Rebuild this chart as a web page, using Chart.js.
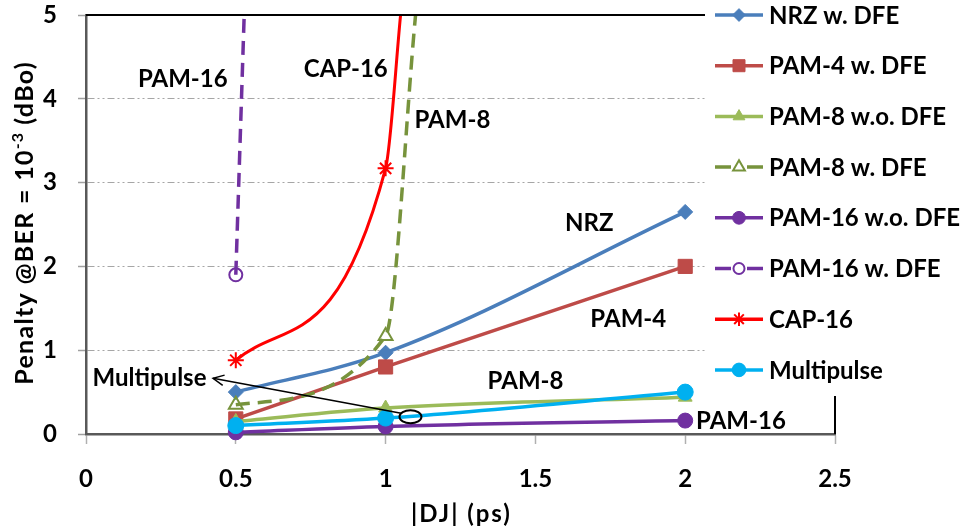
<!DOCTYPE html>
<html>
<head>
<meta charset="utf-8">
<script src="https://cdn.jsdelivr.net/npm/chart.js@4/dist/chart.umd.min.js"></script>
<style>
  html, body { margin: 0; padding: 0; background: #ffffff; }
  canvas { display: block; }
</style>
</head>
<body>
<canvas id="chart" width="972" height="527"></canvas>
<script>
// Axis ticks
const xTickValues = [0, 0.5, 1, 1.5, 2, 2.5];
const yTickValues = [0, 1, 2, 3, 4, 5];

// |DJ| (ps) sample positions shared by the full sweeps
const djPs = [0.5, 1, 2];

// Power penalty (dBo) at BER = 1e-3
const nrzDfe      = [0.50, 0.97, 2.65];
const pam4Dfe     = [0.18, 0.80, 2.00];
const pam8NoDfe   = [0.15, 0.31, 0.44];
const pam16NoDfe  = [0.02, 0.09, 0.16];
const multipulse  = [0.10, 0.19, 0.50];

// Curves that run off the top of the penalty range
const pam8DfeX    = [0.5, 1, 1.1];
const pam8Dfe     = [0.35, 1.17, 5];
const pam16DfeX   = [0.5, 0.528];
const pam16Dfe    = [1.9, 5];
const cap16X      = [0.5, 1, 1.05];
const cap16       = [0.88, 3.17, 5];

const seriesNames = [
  'NRZ w. DFE', 'PAM-4 w. DFE', 'PAM-8 w.o. DFE', 'PAM-8 w. DFE',
  'PAM-16 w.o. DFE', 'PAM-16 w. DFE', 'CAP-16', 'Multipulse'
];

// Axis titles; the y title carries a superscript exponent
const xTitle = '|DJ| (ps)';
const yTitleParts = ['Penalty @BER = 10', '-3', ' (dBo)'];

// In-plot curve labels (data coordinates)
const curveLabelText = ['PAM-16', 'CAP-16', 'PAM-8', 'NRZ', 'PAM-4', 'PAM-8', 'PAM-16', 'Multipulse'];
const curveLabelX    = [0.323, 0.867, 1.223, 1.68, 1.81, 1.467, 2.186, 0.212];
const curveLabelY    = [4.24, 4.36, 3.76, 2.52, 1.38, 0.644, 0.167, 0.674];

// Callout from the "Multipulse" label to its curve
const calloutFrom = [0.424, 0.665];
const calloutTo   = [1.052, 0.247];
const calloutRing = [1.083, 0.206];

const FONT = 'Lato';
const FONT_SIZE = 24;

const pts = (xs, ys) => xs.map((x, i) => ({ x: x, y: ys[i] }));

function series(name, xs, ys, color, extra) {
  return Object.assign({
    label: name,
    data: pts(xs, ys),
    showLine: true,
    borderColor: color,
    backgroundColor: color,
    pointBorderColor: color,
    pointBackgroundColor: color,
    borderWidth: 3.5,
    pointBorderWidth: 1,
    cubicInterpolationMode: 'monotone',
    clip: { left: 20, right: 20, top: 0, bottom: 20 }
  }, extra);
}

const datasets = [
  series(seriesNames[0], djPs, nrzDfe, '#4A7EBB', { pointStyle: 'rectRot', pointRadius: 7.5 }),
  series(seriesNames[1], djPs, pam4Dfe, '#BE4B48', { pointStyle: 'rect', pointRadius: 10 }),
  series(seriesNames[2], djPs, pam8NoDfe, '#9BBB59', { pointStyle: 'triangle', pointRadius: 8 }),
  series(seriesNames[3], pam8DfeX, pam8Dfe, '#77933C', {
    pointStyle: 'triangle', pointRadius: [8, 8, 0], borderDash: [14, 8],
    pointBackgroundColor: 'rgba(0,0,0,0)', pointBorderWidth: 2
  }),
  series(seriesNames[4], djPs, pam16NoDfe, '#7030A0', { pointStyle: 'circle', pointRadius: 7.5 }),
  series(seriesNames[5], pam16DfeX, pam16Dfe, '#7030A0', {
    pointStyle: 'circle', pointRadius: [6.5, 0], borderDash: [14, 8],
    pointBackgroundColor: 'rgba(0,0,0,0)', pointBorderWidth: 2
  }),
  series(seriesNames[6], cap16X, cap16, '#FF0000', {
    pointStyle: 'star', pointRadius: [8, 8, 0], borderWidth: 3, pointBorderWidth: 2
  }),
  series(seriesNames[7], djPs, multipulse, '#00B0F0', { pointStyle: 'circle', pointRadius: 8 })
];
// later series are painted on top
datasets.forEach((d, i) => { d.order = datasets.length - i; });

// width of a run of text drawn with extra letter spacing
function spacedWidth(ctx, text, spacing) {
  ctx.letterSpacing = '0px';
  return ctx.measureText(text).width + spacing * text.length;
}
function drawSpaced(ctx, text, x, y, spacing) {
  ctx.letterSpacing = spacing + 'px';
  ctx.fillText(text, x, y);
  ctx.letterSpacing = '0px';
}

const framePlugin = {
  id: 'frameAndNotes',
  afterDatasetsDraw(chart) {
    const ctx = chart.ctx, a = chart.chartArea;
    const xs = chart.scales.x, ys = chart.scales.y;
    ctx.save();
    // top and right edges of the plot frame
    ctx.strokeStyle = '#000000';
    ctx.lineWidth = 2;
    ctx.beginPath();
    ctx.moveTo(a.left, a.top);
    ctx.lineTo(a.right, a.top);
    ctx.lineTo(a.right, a.bottom);
    ctx.stroke();

    // curve labels
    ctx.fillStyle = '#000000';
    ctx.font = 'bold ' + FONT_SIZE + 'px ' + FONT;
    ctx.textAlign = 'center';
    ctx.textBaseline = 'alphabetic';
    curveLabelText.forEach((t, i) => {
      const px = xs.getPixelForValue(curveLabelX[i]);
      const py = ys.getPixelForValue(curveLabelY[i]);
      ctx.fillText(t, px, py + FONT_SIZE * 0.36);
    });

    // callout arrow and ring
    const x0 = xs.getPixelForValue(calloutFrom[0]), y0 = ys.getPixelForValue(calloutFrom[1]);
    const x1 = xs.getPixelForValue(calloutTo[0]), y1 = ys.getPixelForValue(calloutTo[1]);
    ctx.strokeStyle = '#000000';
    ctx.lineWidth = 1.5;
    ctx.beginPath();
    ctx.moveTo(x1, y1);
    ctx.lineTo(x0, y0);
    ctx.stroke();
    const ang = Math.atan2(y1 - y0, x1 - x0);
    ctx.beginPath();
    ctx.moveTo(x0 + 12 * Math.cos(ang - 0.45), y0 + 12 * Math.sin(ang - 0.45));
    ctx.lineTo(x0, y0);
    ctx.lineTo(x0 + 12 * Math.cos(ang + 0.45), y0 + 12 * Math.sin(ang + 0.45));
    ctx.stroke();
    ctx.lineWidth = 2;
    ctx.beginPath();
    ctx.ellipse(xs.getPixelForValue(calloutRing[0]), ys.getPixelForValue(calloutRing[1]), 11, 6.5, 0, 0, Math.PI * 2);
    ctx.stroke();
    ctx.restore();
  },
  afterDraw(chart) {
    const ctx = chart.ctx, a = chart.chartArea;
    ctx.save();

    // x axis title, centred under the plot
    ctx.fillStyle = '#000000';
    ctx.textBaseline = 'alphabetic';
    ctx.textAlign = 'left';
    ctx.font = 'bold 24px ' + FONT;
    const xw = spacedWidth(ctx, xTitle, 2);
    drawSpaced(ctx, xTitle, (a.left + a.right) / 2 - xw / 2 + 1, 521.5, 2);

    // y axis title, rotated, with superscript exponent
    ctx.save();
    ctx.translate(33, 223);
    ctx.rotate(-Math.PI / 2);
    const big = 'bold 25px ' + FONT, small = 'bold 16px ' + FONT;
    ctx.font = big;
    const w0 = spacedWidth(ctx, yTitleParts[0], 1.3);
    const w2 = spacedWidth(ctx, yTitleParts[2], 1.3);
    ctx.font = small;
    const w1 = spacedWidth(ctx, yTitleParts[1], 1);
    let cx = -(w0 + w1 + w2) / 2;
    ctx.font = big;
    drawSpaced(ctx, yTitleParts[0], cx, 0, 1.3); cx += w0;
    ctx.font = small;
    drawSpaced(ctx, yTitleParts[1], cx, -10, 1); cx += w1;
    ctx.font = big;
    drawSpaced(ctx, yTitleParts[2], cx, 0, 1.3);
    ctx.restore();

    // legend panel sits over the upper right of the plot
    ctx.fillStyle = '#ffffff';
    ctx.fillRect(705, 0, 267, 396);
    chart.data.datasets.forEach((ds, i) => {
      const cy = 15 + i * 50.7;
      const x0 = 715, x1 = 763, cx = 739;
      ctx.strokeStyle = ds.borderColor;
      ctx.lineWidth = 3.5;
      ctx.setLineDash([]);
      ctx.beginPath();
      if (ds.borderDash) {
        ctx.moveTo(x0, cy); ctx.lineTo(x0 + 16, cy);
        ctx.moveTo(x1 - 16, cy); ctx.lineTo(x1, cy);
      } else {
        ctx.moveTo(x0, cy); ctx.lineTo(x1, cy);
      }
      ctx.stroke();
      const r = Array.isArray(ds.pointRadius) ? ds.pointRadius[0] : ds.pointRadius;
      ctx.fillStyle = ds.pointBackgroundColor;
      ctx.strokeStyle = ds.pointBorderColor;
      ctx.lineWidth = ds.pointBorderWidth;
      Chart.helpers.drawPoint(ctx, { pointStyle: ds.pointStyle, rotation: 0, radius: r * 0.85, borderWidth: ds.pointBorderWidth }, cx, cy);
      ctx.fillStyle = '#000000';
      ctx.font = 'bold ' + FONT_SIZE + 'px ' + FONT;
      ctx.textAlign = 'left';
      ctx.textBaseline = 'alphabetic';
      ctx.fillText(ds.label, 769, cy + FONT_SIZE * 0.36);
    });
    ctx.restore();
  }
};

Chart.defaults.font.family = FONT;

new Chart(document.getElementById('chart'), {
  type: 'scatter',
  data: { datasets: datasets },
  plugins: [framePlugin],
  options: {
    responsive: false,
    animation: false,
    devicePixelRatio: 1,
    layout: { padding: { top: 15, right: 137, left: 0, bottom: 0 } },
    elements: { line: { capBezierPoints: false } },
    plugins: { legend: { display: false }, tooltip: { enabled: false } },
    scales: {
      x: {
        type: 'linear',
        min: 0, max: 2.5,
        afterBuildTicks: s => { s.ticks = xTickValues.map(v => ({ value: v })); },
        afterFit: s => { s.height = 93; s.paddingLeft = 0; s.paddingRight = 0; },
        grid: { drawOnChartArea: false, drawTicks: true, tickLength: 10, tickColor: '#b0b0b0', tickWidth: 1.5 },
        border: { display: true, color: '#595959', width: 2.5 },
        ticks: { color: '#000', padding: 21, maxRotation: 0, callback: v => String(v), font: { size: FONT_SIZE, weight: 'bold' } },
        title: { display: false }
      },
      y: {
        type: 'linear',
        min: 0, max: 5,
        afterBuildTicks: s => { s.ticks = yTickValues.map(v => ({ value: v })); },
        afterFit: s => { s.width = 86; s.paddingTop = 0; s.paddingBottom = 0; },
        grid: { drawOnChartArea: true, color: '#a6a6a6', lineWidth: 1, tickLength: 8, tickColor: '#a0a0a0', tickWidth: 1.5 },
        border: { display: true, color: '#595959', width: 2.5, dash: [7, 3, 2, 3, 2, 3] },
        ticks: { color: '#000', padding: 21, callback: v => String(v), font: { size: FONT_SIZE, weight: 'bold' } },
        title: { display: false }
      }
    }
  }
});
</script>
</body>
</html>
